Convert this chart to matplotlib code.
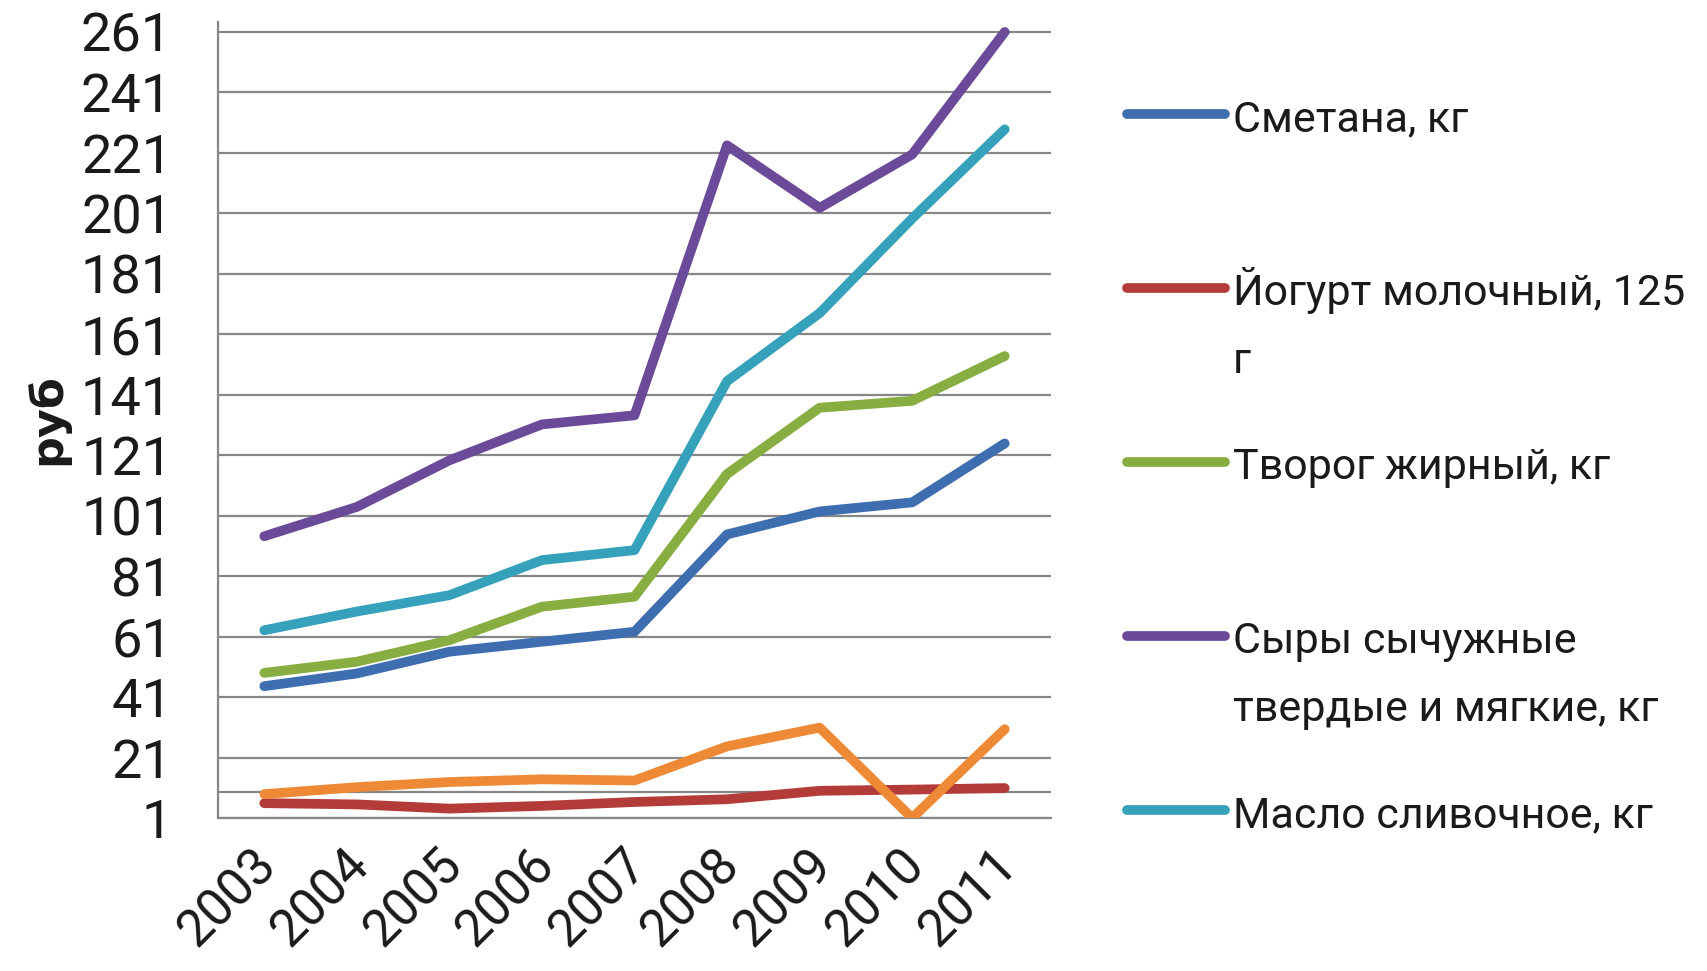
import numpy as np
import matplotlib
matplotlib.use('Agg')
import matplotlib.pyplot as plt
from matplotlib.lines import Line2D
from matplotlib.transforms import ScaledTranslation

# data (руб)
years = ['2003', '2004', '2005', '2006', '2007', '2008', '2009', '2010', '2011']
smetana = [44.6, 48.8, 56.0, 59.3, 62.6, 94.8, 102.4, 105.4, 124.9]
yogurt = [5.9, 5.5, 4.1, 5.0, 6.3, 7.2, 10.0, 10.4, 10.9]
tvorog = [49.0, 52.7, 59.8, 70.9, 74.2, 114.8, 136.7, 139.0, 153.8]
syry = [94.2, 103.9, 119.3, 131.2, 134.2, 223.5, 202.8, 220.5, 261.0]
maslo = [63.1, 69.3, 74.7, 86.3, 89.6, 145.5, 168.0, 199.3, 228.8]
sixth = [8.9, 11.2, 12.9, 13.8, 13.4, 24.7, 30.9, 1.0, 30.4]  # not shown in legend

legend_labels = ['Сметана, кг', 'Йогурт молочный, 125\nг', 'Творог жирный, кг',
                 'Сыры сычужные\nтвердые и мягкие, кг', 'Масло сливочное, кг']
y_ticks = list(range(1, 262, 20))

colors = ['#3E6DB0', '#B33C38', '#88AE42', '#6B4A9A', '#35A1BA']
sixth_color = '#EE8A35'
grid_color = '#878787'

plt.rcParams['font.family'] = ['Roboto', 'DejaVu Sans']
plt.rcParams['text.color'] = '#1A1A1A'

W, H = 1708, 971
fig = plt.figure(figsize=(W / 100, H / 100), dpi=100)
ax = fig.add_axes([218 / W, 1 - 818 / H, (1051 - 218) / W, (818 - 22) / H])

x = np.arange(len(years))
series = [smetana, yogurt, tvorog, syry, maslo]
lw = 7
for vals, c in zip(series, colors):
    ax.plot(x, vals, color=c, lw=lw, solid_capstyle='round', solid_joinstyle='round', zorder=3)
ax.plot(x, sixth, color=sixth_color, lw=lw, solid_capstyle='round', solid_joinstyle='round', zorder=4)

ax.set_xlim(-0.5, len(years) - 0.5)
ax.set_ylim(1, 264.3)
ax.set_yticks(y_ticks)
ax.set_yticklabels([str(t) for t in y_ticks], fontsize=39, color='#1A1A1A')
ax.yaxis.grid(True, color=grid_color, lw=1.6)
ax.axhline(9.5, color=grid_color, lw=1.6, zorder=1)
ax.set_axisbelow(True)
ax.tick_params(axis='y', length=0, pad=33)
ax.tick_params(axis='x', length=0, pad=0)

ax.set_xticks(x)
ax.set_xticklabels(years, fontsize=37, rotation=45, ha='right', va='center',
                   rotation_mode='anchor', color='#1A1A1A')
for lab in ax.get_xticklabels():
    lab.set_transform(lab.get_transform() + ScaledTranslation(5 / 100, -39 / 100, fig.dpi_scale_trans))

for side in ['top', 'right']:
    ax.spines[side].set_visible(False)
for side in ['left', 'bottom']:
    ax.spines[side].set_color(grid_color)
    ax.spines[side].set_linewidth(1.6)

fig.text(47 / W, 1 - 419 / H, 'руб', rotation=90, fontsize=32, fontweight='bold',
         family='DejaVu Sans', ha='center', va='center')

# legend drawn like the Excel one: equal slots, wrapped lines hang below
slot_top, slot_step, line_step = 114, 174, 68
for i, (lab, c) in enumerate(zip(legend_labels, colors)):
    yy = slot_top + i * slot_step
    fig.add_artist(Line2D([1127 / W, 1225 / W], [1 - yy / H, 1 - yy / H], color=c, lw=lw,
                          solid_capstyle='round', transform=fig.transFigure))
    for j, part in enumerate(lab.split('\n')):
        fig.text(1233 / W, 1 - (yy + 17 + j * line_step) / H, part, fontsize=31,
                 ha='left', va='baseline')

fig.savefig('out.png', dpi=100)
